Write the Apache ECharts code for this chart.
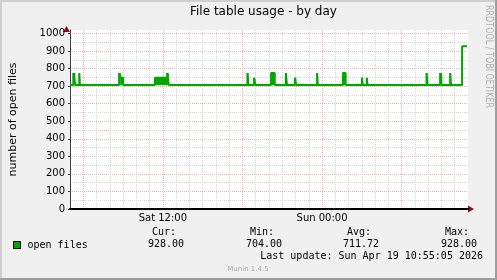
<!DOCTYPE html>
<html><head><meta charset="utf-8">
<script src="https://cdn.jsdelivr.net/npm/echarts@6/dist/echarts.min.js"></script>
<style>html,body{margin:0;padding:0;background:#f0f0f0}#c{width:497px;height:280px}</style>
</head><body><div id="c"></div>
<script>
// time in hours since Sat 00:00; value holds from this time until the next point
const sampleHours = [5.00, 5.25, 5.40, 5.70, 5.75, 8.70, 8.83, 9.00, 11.40, 12.32, 12.45, 18.375, 18.45, 18.875, 18.975, 20.155, 20.435, 21.275, 21.355, 21.955, 22.05, 23.625, 23.675, 25.575, 25.775, 27.005, 27.075, 27.375, 27.425, 31.875, 31.95, 32.90, 32.94, 32.97, 33.00, 33.655, 33.725, 34.555, 34.93];
const openFiles   = [706, 775, 706, 775, 706, 775, 748, 706, 748, 775, 706, 775, 706, 748, 706, 775, 706, 775, 706, 748, 706, 775, 706, 775, 706, 748, 706, 748, 706, 775, 706, 775, 748, 775, 706, 775, 706, 928, 928];
const majorHours = [6, 12, 18, 24, 30];
const minorHours = [7,8,9,10,11,13,14,15,16,17,19,20,21,22,23,25,26,27,28,29,31,32,33,34];
const minorValues = [50,150,250,350,450,550,650,750,850,950];
const labelHours = [12, 24];
const tickLabels = ['Sat 12:00', 'Sun 00:00'];
const statNames = ['Cur:', 'Min:', 'Avg:', 'Max:'];
const statValues = ['928.00', '704.00', '711.72', '928.00'];
const seriesName = 'open files';

const GREEN = '#00a800';
const MAJOR = '#f2aeae';
const MINOR = '#d6d6d6';
const base = openFiles[0];
const areas = [];
for (let i = 0; i < sampleHours.length - 1; i++) {
  const v = openFiles[i];
  if (v > base && v < 850) {
    areas.push([{xAxis: sampleHours[i], yAxis: base}, {xAxis: sampleHours[i+1], yAxis: v}]);
  }
}

const statHeadX = [176, 274, 371, 469];
const statValX = [184, 282, 379, 477];
const mono = 'DejaVu Sans Mono';
const monoFont = '10px "DejaVu Sans Mono"';
const graphics = [];
statNames.forEach((n, i) => {
  graphics.push({type:'text', x: statHeadX[i], y: 232, style:{text:n, fill:'#000', font:monoFont, textAlign:'right', textVerticalAlign:'middle'}});
  graphics.push({type:'text', x: statValX[i], y: 244, style:{text:statValues[i], fill:'#000', font:monoFont, textAlign:'right', textVerticalAlign:'middle'}});
});
graphics.push({type:'text', x: 483, y: 256, style:{text:'Last update: Sun Apr 19 10:55:05 2026', fill:'#000', font:monoFont, textAlign:'right', textVerticalAlign:'middle'}});
graphics.push({type:'text', x: 248, y: 269, style:{text:'Munin 1.4.5', fill:'#a8a8a8', font:'7px "DejaVu Sans"', textAlign:'center', textVerticalAlign:'middle'}});
graphics.push({type:'text', x: 488.5, y: 5, rotation: -Math.PI/2, scaleY: 1.35, style:{text:'RRDTOOL / TOBI OETIKER', fill:'#b0b0b0', font:'8px "DejaVu Sans"', textAlign:'left', textVerticalAlign:'middle'}});
// frame
graphics.push({type:'rect', shape:{x:0,y:0,width:497,height:2}, style:{fill:'#cfcfcf'}, silent:true});
graphics.push({type:'rect', shape:{x:0,y:0,width:2,height:280}, style:{fill:'#cfcfcf'}, silent:true});
graphics.push({type:'rect', shape:{x:495,y:0,width:2,height:280}, style:{fill:'#9e9e9e'}, silent:true});
graphics.push({type:'rect', shape:{x:0,y:278,width:497,height:2}, style:{fill:'#9e9e9e'}, silent:true});
// axis arrows
graphics.push({type:'polygon', shape:{points:[[468,205.5],[474,209],[468,212.5]]}, style:{fill:'#8b1010'}, silent:true});
graphics.push({type:'polygon', shape:{points:[[63,32],[66.5,26],[70,32]]}, style:{fill:'#8b1010'}, silent:true});

const chart = echarts.init(document.getElementById('c'), null, {renderer:'canvas'});
chart.setOption({
  animation: false,
  backgroundColor: '#f0f0f0',
  textStyle: {fontFamily: 'DejaVu Sans'},
  title: {text: 'File table usage - by day', left: 190, top: 6, padding: 0,
    textStyle: {fontFamily: 'DejaVu Sans', fontSize: 12, fontWeight: 'normal', color: '#000'}},
  legend: {data: [seriesName], left: 13, top: 240, padding: 0, icon: 'rect', itemWidth: 7, itemHeight: 7,
    itemStyle: {borderColor: '#000', borderWidth: 1},
    textStyle: {fontFamily: mono, fontSize: 10, color: '#000', padding: [0,0,0,2]}},
  grid: {left: 67, right: 29, top: 30, bottom: 71, show: true, backgroundColor: '#fff', borderWidth: 0, containLabel: false},
  xAxis: [{type: 'value', min: 5, max: 35, z: 2,
    axisLine: {show: true, onZero: false, lineStyle: {color: '#000', width: 2}},
    axisTick: {show: false, customValues: minorHours},
    axisLabel: {customValues: labelHours, formatter: v => tickLabels[labelHours.indexOf(v)] || '', fontSize: 10, color: '#000', margin: 4, fontFamily: 'DejaVu Sans'},
    splitLine: {show: true, lineStyle: {color: MINOR, type: [1,1], width: 1}}},
   {type: 'value', min: 5, max: 35, position: 'bottom', axisLine: {show: false}, axisLabel: {show: false},
    axisTick: {show: false, customValues: majorHours},
    splitLine: {show: true, lineStyle: {color: MAJOR, type: [1,1], width: 1}}}],
  yAxis: [{type: 'value', min: 0, max: 1020, interval: 100, z: 2,
    name: 'number of open files', nameLocation: 'middle', nameGap: 51, nameRotate: 90,
    nameTextStyle: {fontFamily: 'DejaVu Sans', fontSize: 11, color: '#000'},
    axisLine: {show: true, lineStyle: {color: '#404040', width: 1}},
    axisTick: {show: true, length: 2, lineStyle: {color: '#404040'}},
    axisLabel: {formatter: v => (v <= 1000) ? String(v) : '', fontSize: 10, color: '#000', margin: 5, fontFamily: 'DejaVu Sans', showMaxLabel: false},
    splitLine: {show: true, showMaxLine: false, lineStyle: {color: MAJOR, type: [1,1], width: 1}}},
   {type: 'value', min: 0, max: 1020, position: 'left', axisLine: {show: false}, axisLabel: {show: false},
    axisTick: {show: false, customValues: minorValues},
    splitLine: {show: true, lineStyle: {color: MINOR, type: [1,1], width: 1}}}],
  series: [{
    name: seriesName, type: 'line', step: 'end', symbol: 'none', z: 3, xAxisIndex: 0, yAxisIndex: 0,
    data: sampleHours.map((t, i) => [t, openFiles[i]]),
    lineStyle: {color: GREEN, width: 2}, itemStyle: {color: GREEN},
    markArea: {silent: true, itemStyle: {color: GREEN, opacity: 1}, data: areas}
  }],
  graphic: graphics
});
</script></body></html>
